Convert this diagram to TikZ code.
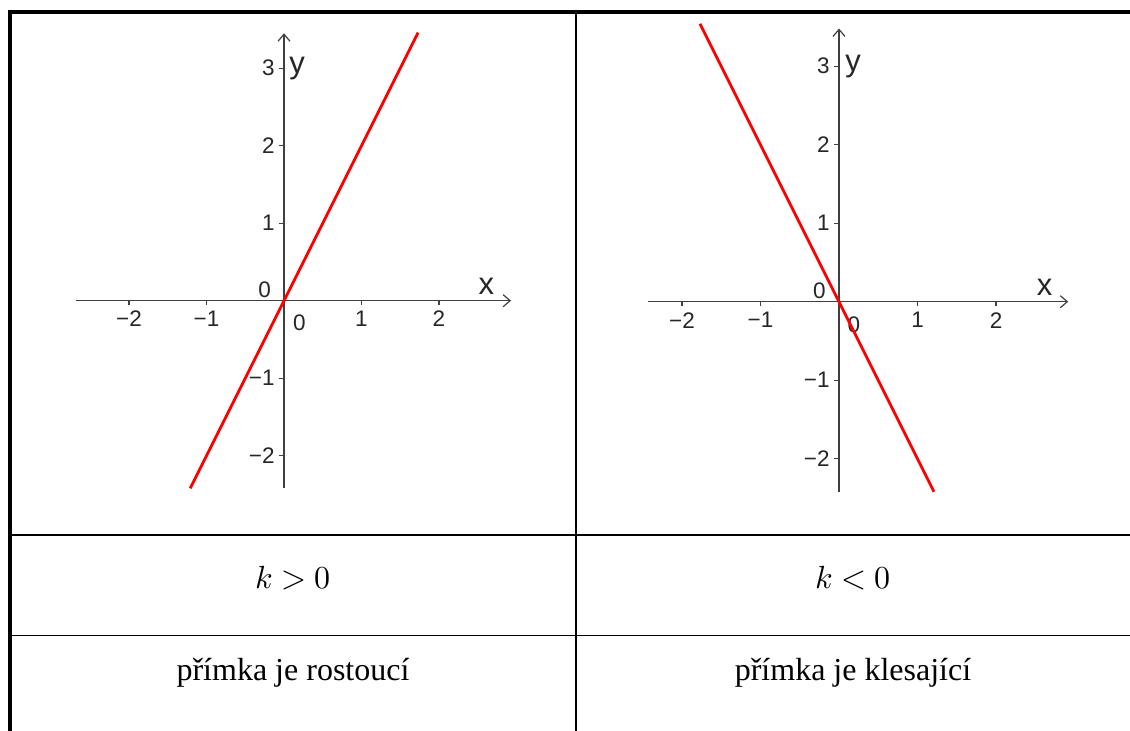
\documentclass[tikz,border=0pt]{standalone}
\usepackage{fontspec}
\usepackage{unicode-math}
\setmainfont{Liberation Serif}
\setmathfont{Latin Modern Math}
\newfontfamily\popisfont{Liberation Sans}
\usetikzlibrary{arrows.meta,positioning}

\begin{document}
\begin{tikzpicture}[
  x=1pt,y=-1pt,
  okraj/.style={line width=4pt,black},
  mrizka/.style={line width=1.5pt,black},
  osa/.style={line width=1.4pt,black!75,-{Straight Barb[length=7pt,width=12pt,line width=1.2pt]}},
  primka/.style={line width=2.8pt,red},
  cislo/.style={font=\popisfont\fontsize{22.5}{22.5}\selectfont,text=black!85,inner sep=0pt},
  nazev/.style={font=\popisfont\fontsize{31}{31}\selectfont,text=black!85,inner sep=0pt},
  bunka/.style={font=\fontsize{32}{36}\selectfont,inner sep=0pt},
]
\useasboundingbox (0,0) rectangle (1130,731);

% tabulka
\draw[okraj] (8,12) -- (1130,12);
\draw[okraj] (10,10) -- (10,731);
\draw[mrizka] (576,12) -- (576,731);
\draw[mrizka] (12,535) -- (1130,535);
\draw[mrizka] (12,635.5) -- (1130,635.5);

% rostouci primka
\begin{scope}[shift={(284,300.7)},x=77.5pt,y=77.5pt]
  \draw[osa] (-2.69,0) -- (2.93,0);
  \draw[osa] (0,-2.42) -- (0,3.45);
  \foreach \i/\t in {-2/−2,-1/−1,1/1,2/2}
    \draw[osa,-] (\i,0) -- (\i,-0.05) node[cislo,below=6pt] {\t};
  \foreach \i/\t in {-2/−2,-1/−1,1/1,2/2,3/3}
    \draw[osa,-] (0,\i) -- (-0.06,\i) node[cislo,left=4pt] {\t};
  \node[cislo] (nulaA) at (-0.25,0.14) {0};
  \node[cislo] (nulaB) at (0.2,-0.29) {0};
  \node[nazev] (xA) at (2.61,0.18) {x};
  \node[nazev] (yA) at (0.17,3.0) {y};
  \draw[primka] (-1.21,-2.42) -- (1.73,3.46);
\end{scope}

% klesajici primka
\begin{scope}[shift={(839,301.7)},x=78.5pt,y=78.5pt]
  \draw[osa] (-2.43,0) -- (2.92,0);
  \draw[osa] (0,-2.42) -- (0,3.48);
  \foreach \i/\t in {-2/−2,-1/−1,1/1,2/2}
    \draw[osa,-] (\i,0) -- (\i,-0.05) node[cislo,below=6pt] {\t};
  \foreach \i/\t in {-2/−2,-1/−1,1/1,2/2,3/3}
    \draw[osa,-] (0,\i) -- (-0.06,\i) node[cislo,left=4pt] {\t};
  \node[cislo] (nulaC) at (-0.25,0.14) {0};
  \node[cislo] (nulaD) at (0.19,-0.29) {0};
  \node[nazev] (xB) at (2.62,0.18) {x};
  \node[nazev] (yB) at (0.18,3.0) {y};
  \draw[primka] (-1.77,3.54) -- (1.21,-2.42);
\end{scope}

% popisky
\node[bunka] (kA) at (293,578) {$k>0$};
\node[bunka] (kB) at (853,578) {$k<0$};
\node[bunka] (textA) at (293,673) {přímka je rostoucí};
\node[bunka] (textB) at (853,673) {přímka je klesající};

\end{tikzpicture}
\end{document}
